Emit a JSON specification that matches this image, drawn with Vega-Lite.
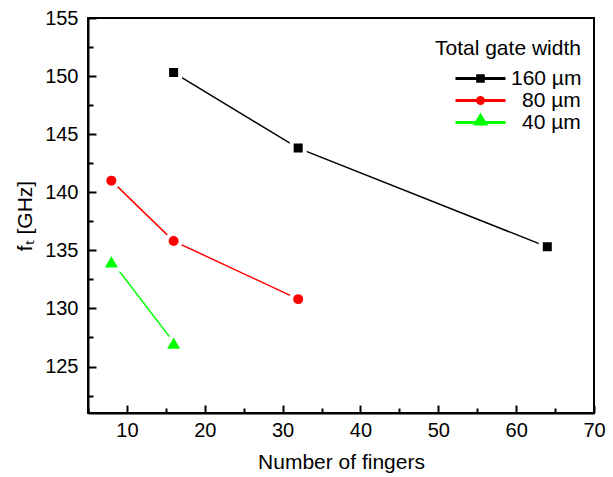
{
  "$schema": "https://vega.github.io/schema/vega-lite/v6.json",
  "width": 506,
  "height": 395,
  "autosize": "none",
  "padding": {"left": 88, "top": 18, "right": 19, "bottom": 64},
  "background": "white",
  "config": {
    "view": {"stroke": "black", "strokeWidth": 2},
    "font": "Liberation Sans",
    "axis": {
      "grid": false,
      "domainColor": "black",
      "domainWidth": 2,
      "tickColor": "black",
      "tickWidth": 2,
      "labelFont": "Liberation Sans",
      "labelFontSize": 20,
      "labelColor": "black",
      "titleFont": "Liberation Sans",
      "titleFontSize": 21,
      "titleColor": "black",
      "titleFontWeight": "normal"
    }
  },
  "data": {
    "values": [
      {"fingers": 16, "ft": 150.3, "width": "160 µm"},
      {"fingers": 32, "ft": 143.8, "width": "160 µm"},
      {"fingers": 64, "ft": 135.3, "width": "160 µm"},
      {"fingers": 8, "ft": 141.0, "width": "80 µm"},
      {"fingers": 16, "ft": 135.8, "width": "80 µm"},
      {"fingers": 32, "ft": 130.8, "width": "80 µm"},
      {"fingers": 8, "ft": 134.1, "width": "40 µm"},
      {"fingers": 16, "ft": 127.1, "width": "40 µm"}
    ]
  },
  "resolve": {"axis": {"x": "independent", "y": "independent"}},
  "layer": [
    {
      "mark": {"type": "line", "strokeWidth": 1.5},
      "encoding": {
        "x": {
          "field": "fingers",
          "type": "quantitative",
          "scale": {"domain": [5, 70], "nice": false, "zero": false},
          "axis": {
            "orient": "bottom",
            "title": "Number of fingers",
            "values": [10, 20, 30, 40, 50, 60, 70],
            "tickSize": -8,
            "labelPadding": 15,
            "titlePadding": 11,
            "labelFlush": false,
            "labelOverlap": false
          }
        },
        "y": {
          "field": "ft",
          "type": "quantitative",
          "scale": {"domain": [121, 155], "nice": false, "zero": false},
          "axis": {
            "orient": "left",
            "title": "fₜ [GHz]",
            "values": [125, 130, 135, 140, 145, 150, 155],
            "tickSize": -8,
            "labelPadding": 18,
            "titlePadding": 9,
            "labelFlush": false,
            "labelOverlap": false
          }
        },
        "color": {
          "field": "width",
          "type": "nominal",
          "scale": {"domain": ["160 µm", "80 µm", "40 µm"], "range": ["#000000", "#ff0000", "#00ff00"]},
          "legend": {
            "title": "Total gate width",
            "orient": "none",
            "legendX": 347,
            "legendY": 20,
            "padding": 0,
            "titleFont": "Liberation Sans",
            "titleFontSize": 21,
            "titleFontWeight": "normal",
            "titleColor": "black",
            "titleAnchor": "start",
            "titlePadding": 8,
            "labelFont": "Liberation Sans",
            "labelFontSize": 21,
            "labelColor": "black",
            "labelAlign": "left",
            "labelOffset": 19,
            "symbolSize": 400,
            "symbolOffset": 34,
            "symbolStrokeWidth": 3,
            "rowPadding": -2,
            "encode": {
              "labels": {
                "update": {
                  "dx": {"signal": "datum.value === '160 µm' ? 0 : 11"}
                }
              },
              "symbols": {
                "update": {
                  "shape": {"signal": "datum.value === '160 µm' ? 'M-2.5,0H2.5M-0.28,-0.28H0.28V0.28H-0.28Z' : datum.value === '80 µm' ? 'M-2.5,0H2.5M-0.3,0A0.3,0.3 0 1,0 0.3,0A0.3,0.3 0 1,0 -0.3,0Z' : 'M-2.5,0H2.5M0,-0.7L0.5,0.15H-0.5Z'"},
                  "fill": {"signal": "scale('color', datum.value)"},
                  "stroke": {"signal": "scale('color', datum.value)"},
                  "strokeWidth": {"value": 3},
                  "opacity": {"value": 1},
                  "fillOpacity": {"value": 1},
                  "strokeOpacity": {"value": 1}
                }
              }
            }
          }
        }
      }
    },
    {
      "transform": [{"filter": "datum.width === '160 µm'"}],
      "mark": {"type": "point", "shape": "square", "filled": true, "fill": "#000000", "opacity": 1, "stroke": "white", "strokeWidth": 4, "size": 169},
      "encoding": {
        "x": {
          "field": "fingers",
          "type": "quantitative",
          "axis": {
            "orient": "bottom",
            "title": null,
            "values": [5, 15, 25, 35, 45, 55, 65],
            "tickSize": -5,
            "labels": false,
            "domain": false
          }
        },
        "y": {
          "field": "ft",
          "type": "quantitative",
          "axis": {
            "orient": "left",
            "title": null,
            "values": [122.5, 127.5, 132.5, 137.5, 142.5, 147.5, 152.5],
            "tickSize": -5,
            "labels": false,
            "domain": false
          }
        }
      }
    },
    {
      "transform": [{"filter": "datum.width === '80 µm'"}],
      "mark": {"type": "point", "shape": "circle", "filled": true, "fill": "#ff0000", "opacity": 1, "stroke": "white", "strokeWidth": 4, "size": 196},
      "encoding": {
        "x": {"field": "fingers", "type": "quantitative", "axis": null},
        "y": {"field": "ft", "type": "quantitative", "axis": null}
      }
    },
    {
      "transform": [{"filter": "datum.width === '40 µm'"}],
      "mark": {"type": "point", "shape": "triangle-up", "filled": true, "fill": "#00ff00", "opacity": 1, "stroke": "white", "strokeWidth": 4, "size": 400},
      "encoding": {
        "x": {"field": "fingers", "type": "quantitative", "axis": null},
        "y": {"field": "ft", "type": "quantitative", "axis": null}
      }
    }
  ]
}
